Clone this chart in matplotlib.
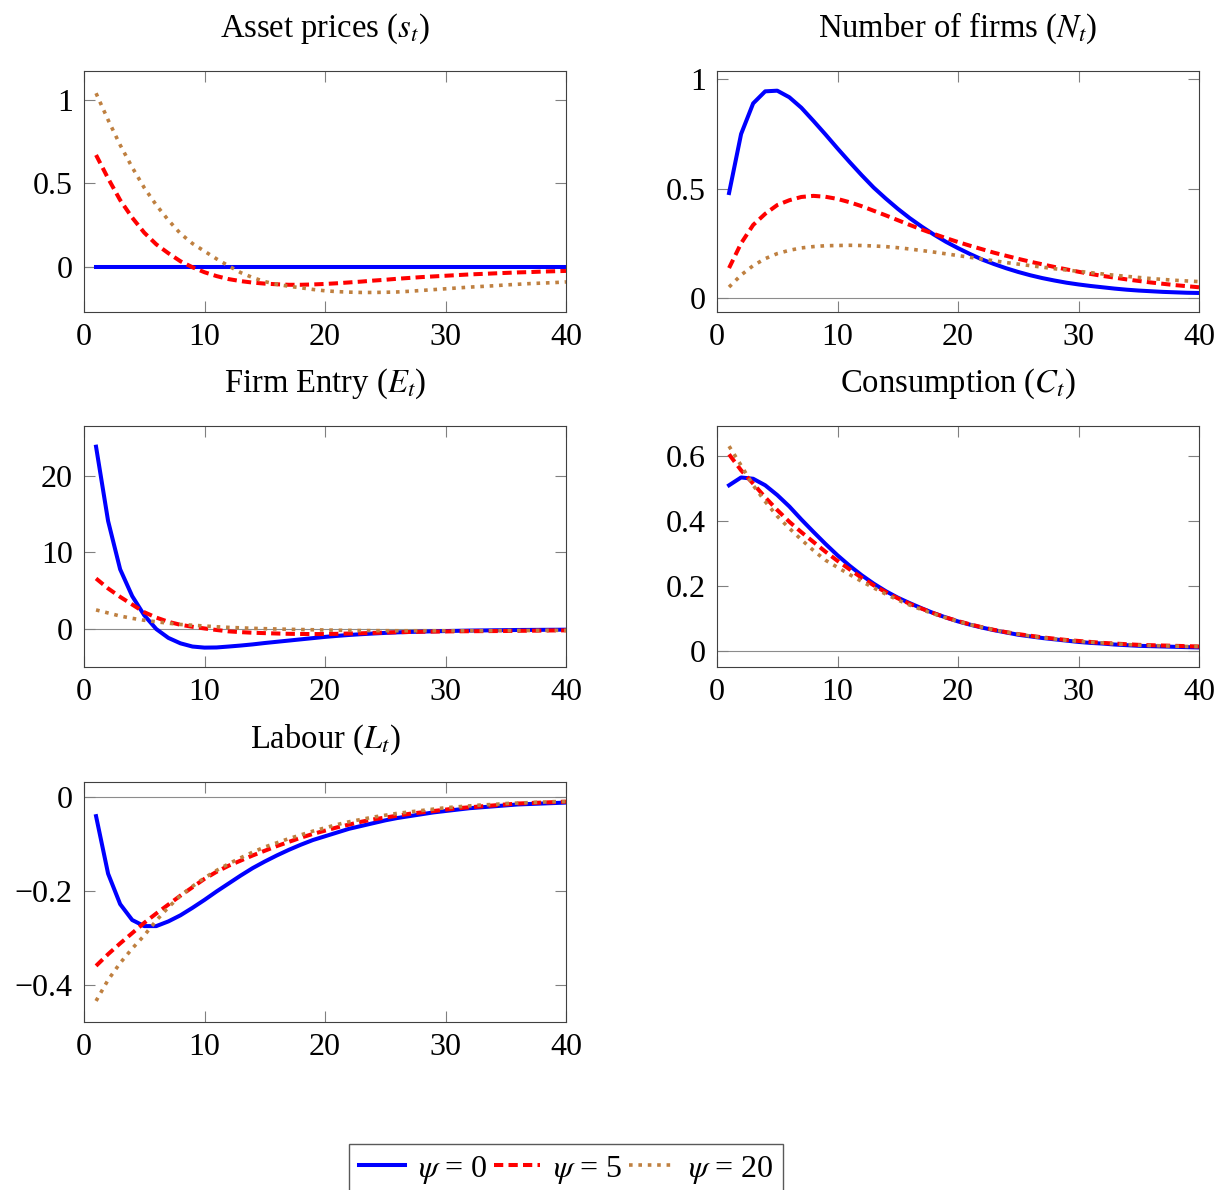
import matplotlib
matplotlib.use("Agg")
import matplotlib.pyplot as plt

plt.rcParams['font.family'] = ['Liberation Serif', 'DejaVu Serif']
plt.rcParams['mathtext.fontset'] = 'stix'
plt.rcParams['font.size'] = 23

# horizonte (periodos 1..40)
t = list(range(1, 41))

# Asset prices (s_t)
s_psi0 = [0.0, 0.0, 0.0, 0.0, 0.0, 0.0, 0.0, 0.0, 0.0, 0.0,
          0.0, 0.0, 0.0, 0.0, 0.0, 0.0, 0.0, 0.0, 0.0, 0.0,
          0.0, 0.0, 0.0, 0.0, 0.0, 0.0, 0.0, 0.0, 0.0, 0.0,
          0.0, 0.0, 0.0, 0.0, 0.0, 0.0, 0.0, 0.0, 0.0, 0.0]
s_psi5 = [0.67, 0.53, 0.40, 0.295, 0.205, 0.135, 0.082, 0.034, -0.002, -0.032,
          -0.055, -0.073, -0.085, -0.094, -0.100, -0.104, -0.107, -0.107, -0.105, -0.102,
          -0.098, -0.093, -0.088, -0.082, -0.077, -0.071, -0.066, -0.061, -0.057, -0.053,
          -0.049, -0.045, -0.042, -0.039, -0.036, -0.033, -0.031, -0.028, -0.026, -0.024]
s_psi20 = [1.04, 0.88, 0.73, 0.596, 0.474, 0.37, 0.28, 0.20, 0.14, 0.094,
           0.048, 0.006, -0.034, -0.064, -0.088, -0.104, -0.116, -0.125, -0.135, -0.143,
           -0.148, -0.151, -0.153, -0.153, -0.152, -0.150, -0.146, -0.141, -0.136, -0.131,
           -0.126, -0.121, -0.117, -0.113, -0.108, -0.104, -0.100, -0.097, -0.094, -0.090]

# Number of firms (N_t)
n_psi0 = [0.48, 0.75, 0.89, 0.945, 0.948, 0.918, 0.87, 0.81, 0.748, 0.684,
          0.622, 0.562, 0.505, 0.455, 0.408, 0.365, 0.326, 0.29, 0.257, 0.228,
          0.201, 0.176, 0.155, 0.136, 0.119, 0.104, 0.091, 0.08, 0.07, 0.062,
          0.055, 0.049, 0.043, 0.038, 0.034, 0.031, 0.028, 0.026, 0.024, 0.023]
n_psi5 = [0.137, 0.25, 0.334, 0.385, 0.425, 0.447, 0.462, 0.467, 0.463, 0.453,
          0.438, 0.42, 0.399, 0.378, 0.356, 0.334, 0.313, 0.293, 0.274, 0.256,
          0.239, 0.223, 0.207, 0.193, 0.179, 0.166, 0.154, 0.142, 0.131, 0.12,
          0.11, 0.101, 0.093, 0.085, 0.078, 0.071, 0.065, 0.059, 0.054, 0.049]
n_psi20 = [0.05, 0.105, 0.148, 0.18, 0.203, 0.218, 0.229, 0.235, 0.239, 0.24,
           0.241, 0.24, 0.238, 0.235, 0.23, 0.224, 0.217, 0.21, 0.202, 0.194,
           0.186, 0.178, 0.17, 0.162, 0.155, 0.148, 0.141, 0.134, 0.128, 0.122,
           0.116, 0.11, 0.104, 0.099, 0.094, 0.089, 0.085, 0.081, 0.078, 0.075]

# Firm Entry (E_t)
e_psi0 = [23.8, 14.1, 7.8, 4.3, 1.8, 0.0, -1.15, -1.86, -2.28, -2.42,
          -2.4, -2.28, -2.15, -2.0, -1.82, -1.66, -1.5, -1.34, -1.18, -1.02,
          -0.89, -0.77, -0.67, -0.58, -0.5, -0.43, -0.38, -0.33, -0.29, -0.26,
          -0.23, -0.2, -0.18, -0.16, -0.14, -0.12, -0.11, -0.1, -0.09, -0.08]
e_psi5 = [6.6, 5.3, 4.2, 3.2, 2.2, 1.5, 0.95, 0.56, 0.3, 0.08,
          -0.12, -0.3, -0.4, -0.48, -0.53, -0.58, -0.62, -0.64, -0.65, -0.65,
          -0.62, -0.58, -0.55, -0.5, -0.45, -0.41, -0.38, -0.35, -0.33, -0.31,
          -0.29, -0.28, -0.27, -0.26, -0.25, -0.23, -0.22, -0.2, -0.18, -0.17]
e_psi20 = [2.5, 2.1, 1.7, 1.4, 1.15, 0.95, 0.77, 0.6, 0.5, 0.4,
           0.3, 0.22, 0.16, 0.1, 0.05, 0.01, -0.03, -0.06, -0.09, -0.12,
           -0.15, -0.17, -0.19, -0.2, -0.21, -0.22, -0.22, -0.22, -0.22, -0.22,
           -0.22, -0.22, -0.22, -0.21, -0.2, -0.2, -0.19, -0.18, -0.17, -0.17]

# Consumption (C_t)
c_psi0 = [0.51, 0.534, 0.53, 0.51, 0.48, 0.445, 0.405, 0.367, 0.33, 0.295,
          0.263, 0.234, 0.208, 0.185, 0.165, 0.148, 0.132, 0.117, 0.104, 0.092,
          0.082, 0.073, 0.065, 0.058, 0.051, 0.046, 0.041, 0.037, 0.033, 0.029,
          0.026, 0.024, 0.021, 0.019, 0.017, 0.016, 0.015, 0.014, 0.013, 0.012]
c_psi5 = [0.605, 0.556, 0.515, 0.473, 0.434, 0.398, 0.366, 0.336, 0.306, 0.278,
          0.252, 0.226, 0.203, 0.182, 0.163, 0.146, 0.131, 0.117, 0.104, 0.093,
          0.083, 0.074, 0.066, 0.059, 0.053, 0.048, 0.043, 0.039, 0.035, 0.032,
          0.029, 0.026, 0.024, 0.022, 0.02, 0.019, 0.018, 0.017, 0.016, 0.015]
c_psi20 = [0.63, 0.571, 0.51, 0.46, 0.415, 0.378, 0.343, 0.31, 0.28, 0.258,
           0.236, 0.215, 0.195, 0.176, 0.158, 0.142, 0.128, 0.115, 0.103, 0.092,
           0.082, 0.074, 0.066, 0.059, 0.053, 0.047, 0.042, 0.038, 0.034, 0.031,
           0.028, 0.026, 0.023, 0.021, 0.019, 0.018, 0.017, 0.016, 0.015, 0.015]

# Labour (L_t)
l_psi0 = [-0.04, -0.163, -0.228, -0.262, -0.275, -0.275, -0.265, -0.252, -0.236, -0.219,
          -0.201, -0.184, -0.167, -0.151, -0.137, -0.124, -0.112, -0.101, -0.091, -0.083,
          -0.075, -0.067, -0.061, -0.055, -0.049, -0.044, -0.04, -0.036, -0.032, -0.029,
          -0.026, -0.023, -0.021, -0.019, -0.017, -0.015, -0.014, -0.013, -0.012, -0.011]
l_psi5 = [-0.36, -0.335, -0.312, -0.29, -0.268, -0.248, -0.229, -0.21, -0.192, -0.174,
          -0.159, -0.146, -0.135, -0.124, -0.114, -0.104, -0.095, -0.086, -0.078, -0.071,
          -0.064, -0.058, -0.052, -0.047, -0.043, -0.039, -0.035, -0.032, -0.029, -0.026,
          -0.023, -0.021, -0.019, -0.017, -0.015, -0.013, -0.012, -0.011, -0.01, -0.009]
l_psi20 = [-0.435, -0.39, -0.354, -0.323, -0.295, -0.263, -0.235, -0.21, -0.19, -0.172,
           -0.156, -0.142, -0.129, -0.117, -0.106, -0.097, -0.088, -0.08, -0.072, -0.065,
           -0.058, -0.052, -0.047, -0.042, -0.038, -0.034, -0.031, -0.028, -0.025, -0.022,
           -0.02, -0.018, -0.016, -0.015, -0.013, -0.012, -0.011, -0.01, -0.009, -0.009]

titles = [r"Asset prices ($s_t$)", r"Number of firms ($N_t$)", r"Firm Entry ($E_t$)",
          r"Consumption ($C_t$)", r"Labour ($L_t$)"]
series = [(s_psi0, s_psi5, s_psi20), (n_psi0, n_psi5, n_psi20), (e_psi0, e_psi5, e_psi20),
          (c_psi0, c_psi5, c_psi20), (l_psi0, l_psi5, l_psi20)]
yticks = [[0, 0.5, 1], [0, 0.5, 1], [0, 10, 20], [0, 0.2, 0.4, 0.6], [-0.4, -0.2, 0]]
ylims = [(-0.27, 1.173), (-0.064, 1.038), (-4.95, 26.5), (-0.048, 0.692), (-0.48, 0.033)]
labels = [r"$\psi$ = 0", r"$\psi$ = 5", r"$\psi$ = 20"]

W, H = 1227, 1190
fig = plt.figure(figsize=(W / 100, H / 100), dpi=100)

# posiciones en pixeles (izq, arriba, der, abajo)
boxes = [(84, 71, 566, 312), (717, 71, 1199, 312),
         (84, 426, 566, 667), (717, 426, 1199, 667),
         (84, 782, 566, 1022)]

lines = []
for i in range(5):
    x0, y0, x1, y1 = boxes[i]
    ax = fig.add_axes([x0 / W, 1 - y1 / H, (x1 - x0) / W, (y1 - y0) / H])
    ax.axhline(0, color='#8c8c8c', lw=0.8, zorder=1)
    y_a, y_b, y_c = series[i]
    l1, = ax.plot(t, y_a, color='#0000ff', lw=2.9, solid_joinstyle='round', zorder=3)
    l2, = ax.plot(t, y_b, color='#ff0000', lw=2.9, dashes=(2.3, 1.3), zorder=3)
    l3, = ax.plot(t, y_c, color='#bf8040', lw=2.6, dashes=(1.0, 1.6), zorder=3)
    if i == 0:
        lines = [l1, l2, l3]
    ax.set_xlim(0, 40)
    ax.set_ylim(*ylims[i])
    ax.set_xticks([0, 10, 20, 30, 40])
    ax.set_yticks(yticks[i])
    ax.set_yticklabels([('%g' % v).replace('-', '\u2212') for v in yticks[i]])
    ax.tick_params(direction='in', top=True, right=True, length=8, width=0.8,
                   color='#808080', labelsize=23)
    ax.tick_params(axis='x', pad=8)
    ax.tick_params(axis='y', pad=8)
    for sp in ax.spines.values():
        sp.set_linewidth(0.8)
        sp.set_color('#404040')
    ax.set_title(titles[i], fontsize=23.5, pad=25)

fig.legend(lines, labels, loc='upper center', bbox_to_anchor=(566 / W, 1 - 1144 / H),
           ncol=3, frameon=True, fancybox=False, edgecolor='#303030', fontsize=23,
           handlelength=1.45, handletextpad=0.4, columnspacing=0.2, borderpad=0.3,
           borderaxespad=0)

fig.savefig("out.png", dpi=100)
